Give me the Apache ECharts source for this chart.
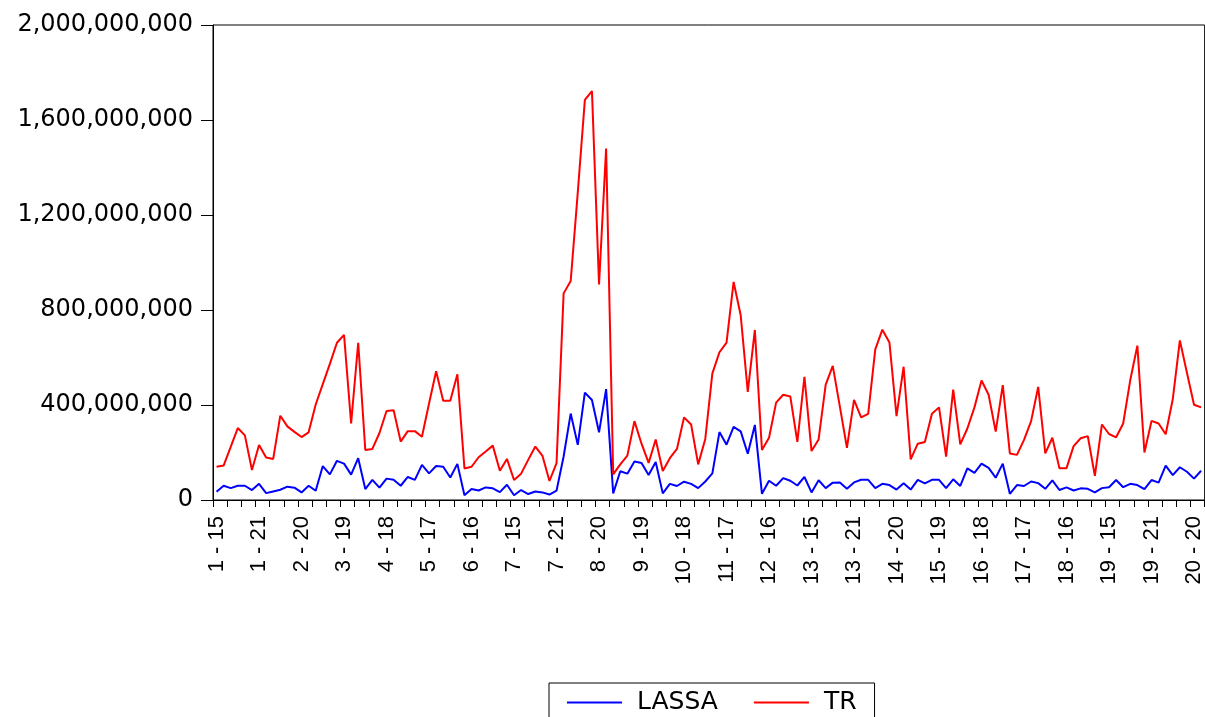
<!DOCTYPE html>
<html>
<head>
<meta charset="utf-8">
<style>
  html, body { margin: 0; padding: 0; background: #fff; }
  #chart { width: 1205px; height: 717px; }
</style>
<script src="https://cdn.jsdelivr.net/npm/echarts@6/dist/echarts.min.js"></script>
</head>
<body>
<div id="chart"></div>
<script>
// Category labels: "week - day"
const weeks = [1,2,3,4,5,6,7,8,9,10,11,12,13,14,15,16,17,18,19,20];
const days = [15,16,17,18,19,20,21];
const categories = [];
weeks.forEach(w => days.forEach(d => categories.push(w + ' - ' + d)));

// Values in millions
const lassaMillions = [
  35,60,50,60,60,42,68,29,36,43,56,52,32,60,39,143,108,165,153,107,
  176,46,85,52,90,85,60,97,85,148,112,143,140,95,152,20,46,40,53,49,
  33,64,20,42,25,36,32,23,39,183,364,232,452,421,285,467,28,121,111,162,
  156,105,160,28,68,59,77,68,50,78,112,286,233,308,289,195,316,26,81,60,
  92,81,61,97,32,83,50,73,74,47,74,85,85,50,68,63,44,71,44,85,
  70,85,85,50,87,59,133,114,153,135,94,153,26,63,59,78,71,47,83,42,
  53,40,49,47,32,50,54,84,54,68,63,46,84,73,145,105,138,119,90,123
];
const trMillions = [
  140,145,224,303,272,126,232,179,173,355,310,287,265,285,402,488,573,662,695,322,
  662,211,215,282,375,378,246,290,290,266,406,542,418,418,529,133,140,180,204,229,
  123,173,84,111,169,225,187,80,155,870,922,1295,1685,1722,908,1480,108,150,187,332,
  237,156,255,122,176,215,348,318,150,257,533,622,663,918,778,455,716,211,262,410,
  443,436,245,519,206,255,486,565,393,220,422,348,363,634,717,663,353,561,171,237,
  244,363,390,183,465,234,301,390,503,443,288,484,196,190,253,332,476,196,262,134,
  134,227,260,269,102,318,278,264,322,505,650,200,333,322,277,424,672,536,401,390
];
const yTicks = { min: 0, max: 2000000000, interval: 400000000 };

const chart = echarts.init(document.getElementById('chart'));
chart.setOption({
  animation: false,
  backgroundColor: '#ffffff',
  grid: {
    left: 213, top: 25, width: 998, height: 475,
    show: true, borderColor: '#000', borderWidth: 1, backgroundColor: 'transparent'
  },
  legend: {
    left: 549, top: 683,
    padding: [7, 18, 20, 18],
    borderColor: '#000', borderWidth: 1,
    itemWidth: 55, itemHeight: 2, itemGap: 36,
    icon: 'rect',
    textStyle: { fontFamily: 'DejaVu Sans', fontSize: 25, color: '#000', padding: [0, 0, 0, 10] },
    data: ['LASSA', 'TR']
  },
  xAxis: {
    type: 'category',
    data: categories,
    boundaryGap: true,
    axisLine: { show: true, lineStyle: { color: '#000', width: 1 } },
    axisTick: { show: true, length: 7, interval: (i) => i % 2 === 0, lineStyle: { color: '#000' } },
    axisLabel: {
      interval: 5, rotate: 90, margin: 16,
      fontFamily: 'Liberation Sans', fontSize: 22, color: '#000',
      padding: [0, 0, 7, 0]
    },
    splitLine: { show: false }
  },
  yAxis: {
    type: 'value',
    min: yTicks.min, max: yTicks.max, interval: yTicks.interval,
    axisLine: { show: true, lineStyle: { color: '#000', width: 1 } },
    axisTick: { show: true, length: 12, lineStyle: { color: '#000' } },
    axisLabel: {
      margin: 20, fontFamily: 'DejaVu Sans', fontSize: 24, color: '#000',
      padding: [0, 0, 8, 0],
      formatter: (v) => v.toLocaleString('en-US')
    },
    splitLine: { show: false }
  },
  series: [
    {
      name: 'LASSA', type: 'line', symbol: 'none',
      lineStyle: { color: '#0000ff', width: 2 }, itemStyle: { color: '#0000ff' },
      data: lassaMillions.map(v => v * 1e6)
    },
    {
      name: 'TR', type: 'line', symbol: 'none',
      lineStyle: { color: '#ff0000', width: 2 }, itemStyle: { color: '#ff0000' },
      data: trMillions.map(v => v * 1e6)
    }
  ]
});
</script>
</body>
</html>
